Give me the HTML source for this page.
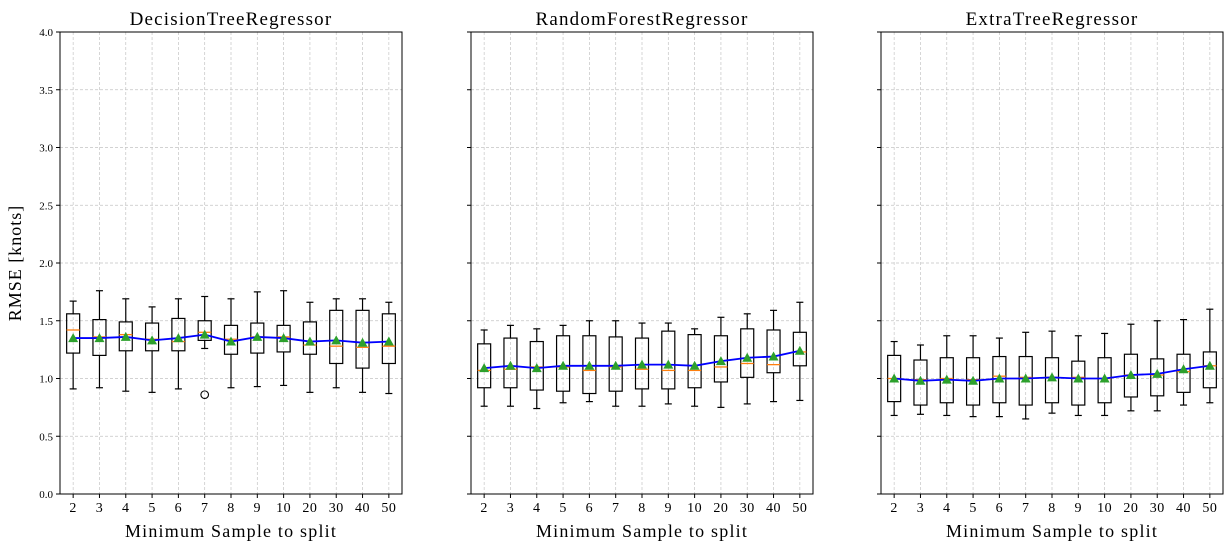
<!DOCTYPE html>
<html><head><meta charset="utf-8"><style>
body{margin:0;background:#fff;}
svg{display:block;font-family:"Liberation Serif",serif;}
</style></head><body>
<svg id="chart" width="1232" height="550" xmlns="http://www.w3.org/2000/svg"></svg>
<script>
const categories=["2","3","4","5","6","7","8","9","10","20","30","40","50"];
const titles=["DecisionTreeRegressor","RandomForestRegressor","ExtraTreeRegressor"];
const yTicks=[0,0.5,1,1.5,2,2.5,3,3.5,4];
const dtLow=[0.91,0.92,0.89,0.88,0.91,1.26,0.92,0.93,0.94,0.88,0.92,0.88,0.87];
const dtQ1=[1.22,1.20,1.24,1.24,1.24,1.33,1.21,1.22,1.23,1.21,1.13,1.09,1.13];
const dtMed=[1.42,1.36,1.38,1.34,1.32,1.40,1.34,1.36,1.36,1.29,1.28,1.27,1.28];
const dtQ3=[1.56,1.51,1.49,1.48,1.52,1.50,1.46,1.48,1.46,1.49,1.59,1.59,1.56];
const dtHigh=[1.67,1.76,1.69,1.62,1.69,1.71,1.69,1.75,1.76,1.66,1.69,1.69,1.66];
const dtMean=[1.35,1.35,1.36,1.33,1.35,1.38,1.32,1.36,1.35,1.32,1.33,1.31,1.32];
const dtOut=[[],[],[],[],[],[0.86],[],[],[],[],[],[],[]];
const rfLow=[0.76,0.76,0.74,0.79,0.80,0.76,0.76,0.78,0.76,0.75,0.78,0.80,0.81];
const rfQ1=[0.92,0.92,0.90,0.89,0.87,0.89,0.91,0.91,0.92,0.97,1.01,1.05,1.11];
const rfMed=[1.07,1.08,1.10,1.10,1.07,1.10,1.08,1.07,1.07,1.10,1.13,1.12,1.23];
const rfQ3=[1.30,1.35,1.32,1.37,1.37,1.36,1.35,1.41,1.38,1.37,1.43,1.42,1.40];
const rfHigh=[1.42,1.46,1.43,1.46,1.50,1.50,1.48,1.48,1.43,1.53,1.56,1.59,1.66];
const rfMean=[1.09,1.11,1.09,1.11,1.11,1.11,1.12,1.12,1.11,1.15,1.18,1.19,1.24];
const rfOut=[[],[],[],[],[],[],[],[],[],[],[],[],[]];
const etLow=[0.68,0.69,0.68,0.67,0.67,0.65,0.70,0.68,0.68,0.72,0.72,0.77,0.79];
const etQ1=[0.80,0.77,0.79,0.77,0.79,0.77,0.79,0.77,0.79,0.84,0.85,0.88,0.92];
const etMed=[1.00,0.99,1.00,0.99,1.02,1.01,1.01,1.01,1.00,1.03,1.03,1.06,1.11];
const etQ3=[1.20,1.16,1.18,1.18,1.19,1.19,1.18,1.15,1.18,1.21,1.17,1.21,1.23];
const etHigh=[1.32,1.29,1.37,1.37,1.35,1.40,1.41,1.37,1.39,1.47,1.50,1.51,1.60];
const etMean=[1.00,0.98,0.99,0.98,1.00,1.00,1.01,1.00,1.00,1.03,1.04,1.08,1.11];
const etOut=[[],[],[],[],[],[],[],[],[],[],[],[],[]];

const NS="http://www.w3.org/2000/svg";
const svg=document.getElementById('chart');
function mk(tag,attrs,parent,text){const e=document.createElementNS(NS,tag);for(const k in attrs)e.setAttribute(k,attrs[k]);if(text!==undefined)e.textContent=text;(parent||svg).appendChild(e);return e;}
const panels=[
 {x0:60,lo:dtLow,q1:dtQ1,med:dtMed,q3:dtQ3,hi:dtHigh,mean:dtMean,out:dtOut},
 {x0:471,lo:rfLow,q1:rfQ1,med:rfMed,q3:rfQ3,hi:rfHigh,mean:rfMean,out:rfOut},
 {x0:881,lo:etLow,q1:etQ1,med:etMed,q3:etQ3,hi:etHigh,mean:etMean,out:etOut}];
const W=342,plotTop=32,plotBot=494,ymax=4;
function yS(v){return plotBot-v*(plotBot-plotTop)/ymax;}
panels.forEach((p,pi)=>{
 const g=mk('g',{});
 
 
 const xS=i=>p.x0+(i+0.5)*W/categories.length;
 yTicks.forEach(t=>{
  const l=mk('line',{x1:p.x0,x2:p.x0+W,y1:yS(t),y2:yS(t),stroke:'#c4c4c4','stroke-width':0.7,'stroke-dasharray':'3,2'},g);
  
  
  mk('line',{x1:p.x0-4,x2:p.x0,y1:yS(t),y2:yS(t),stroke:'#000'},g);
  if(pi===0){
   const tx=mk('text',{x:p.x0-7,y:yS(t)+4,'text-anchor':'end','font-size':11},g,t.toFixed(1));
   
   
  }
 });
 categories.forEach((c,i)=>{const x=xS(i);
  mk('line',{x1:x,x2:x,y1:plotTop,y2:plotBot,stroke:'#c4c4c4','stroke-width':0.7,'stroke-dasharray':'3,2'},g);
  mk('line',{x1:x,x2:x,y1:plotBot,y2:plotBot+4,stroke:'#000'},g);
  const tx=mk('text',{x:x,y:plotBot+18,'text-anchor':'middle','font-size':14,'letter-spacing':0.5},g,c);
  
  
 });
 categories.forEach((c,i)=>{const x=xS(i),hw=6.5;
  const b=mk('g',{},g);
  
  
  mk('line',{x1:x,x2:x,y1:yS(p.hi[i]),y2:yS(p.q3[i]),stroke:'#000','stroke-width':1.2},b);
  mk('line',{x1:x,x2:x,y1:yS(p.q1[i]),y2:yS(p.lo[i]),stroke:'#000','stroke-width':1.2},b);
  mk('line',{x1:x-3.5,x2:x+3.5,y1:yS(p.hi[i]),y2:yS(p.hi[i]),stroke:'#000','stroke-width':1.2},b);
  mk('line',{x1:x-3.5,x2:x+3.5,y1:yS(p.lo[i]),y2:yS(p.lo[i]),stroke:'#000','stroke-width':1.2},b);
  mk('rect',{x:x-hw,y:yS(p.q3[i]),width:2*hw,height:yS(p.q1[i])-yS(p.q3[i]),fill:'none',stroke:'#000','stroke-width':1.2},b);
  mk('line',{x1:x-hw,x2:x+hw,y1:yS(p.med[i]),y2:yS(p.med[i]),stroke:'#ff7f0e','stroke-width':1.3},b);
  p.out[i].forEach(v=>mk('circle',{cx:x,cy:yS(v),r:3.8,fill:'none',stroke:'#000','stroke-width':1.1},b));
 });
 const pts=categories.map((c,i)=>xS(i)+','+yS(p.mean[i])).join(' ');
 const pl=mk('polyline',{points:pts,fill:'none',stroke:'#0000ff','stroke-width':1.8},g);
 
 
 categories.forEach((c,i)=>{const x=xS(i),y=yS(p.mean[i]);
  const t=mk('polygon',{points:`${x},${y-5} ${x-5},${y+4} ${x+5},${y+4}`,fill:'#2ca02c'},g);
  
  
 });
 const fr=mk('rect',{x:p.x0,y:plotTop,width:W,height:plotBot-plotTop,fill:'none',stroke:'#000','stroke-width':1},g);
 
 
 const ti=mk('text',{x:p.x0+W/2,y:25,'text-anchor':'middle','font-size':19,'letter-spacing':1.2},g,titles[pi]);
 
 
 const xl=mk('text',{x:p.x0+W/2,y:537,'text-anchor':'middle','font-size':18,'letter-spacing':1.2},g,'Minimum Sample to split');
 
 
});
const yl=mk('text',{x:0,y:0,transform:'translate(21,263) rotate(-90)','text-anchor':'middle','font-size':18,'letter-spacing':1},svg,'RMSE [knots]');


</script>
</body></html>
